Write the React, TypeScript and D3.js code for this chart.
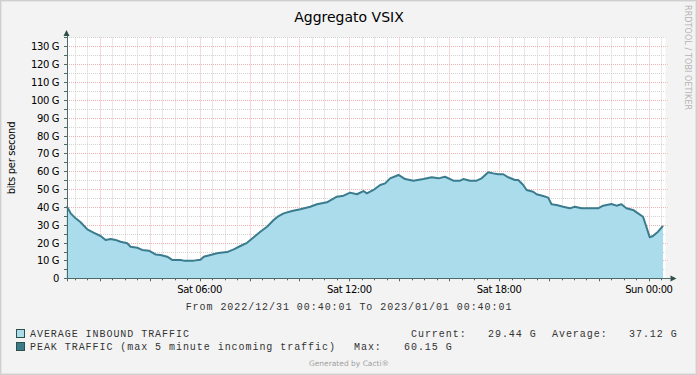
import * as d3 from "d3";
import { useEffect, useRef } from "react";

// time window of the graph
const startTime = new Date(2022, 11, 31, 0, 40, 1);
const endTime = new Date(2023, 0, 1, 0, 40, 1);

// sample positions, minutes after startTime
const sampleMinutes = [
  0, 2, 10, 22, 34, 50, 66, 82, 94, 106, 118, 130, 146, 154, 170, 182, 198, 214, 226, 242,
  254, 274, 282, 306, 322, 330, 346, 362, 370, 386, 402, 418, 434, 450, 466, 482, 498, 510,
  522, 542, 562, 586, 602, 626, 650, 666, 682, 698, 714, 722, 738, 754, 766, 778, 798, 814,
  834, 858, 878, 894, 910, 930, 946, 954, 970, 986, 998, 1014, 1026, 1038, 1050, 1062, 1078,
  1086, 1098, 1106, 1122, 1130, 1146, 1158, 1166, 1178, 1194, 1210, 1222, 1238, 1258, 1278,
  1290, 1310, 1322, 1334, 1346, 1362, 1374, 1386, 1394, 1402, 1410, 1422, 1434,
];

// average inbound traffic, Gbit/s
const inboundG = [
  40.2, 39.8, 36.4, 33.6, 31.4, 27.4, 25.5, 23.7, 21.5, 22.0, 21.5, 20.5, 19.6, 17.7, 17.1, 15.9,
  15.5, 13.4, 13.1, 12.1, 10.3, 10.3, 9.9, 9.9, 10.4, 12.1, 13.1, 14.0, 14.3, 14.7, 16.2, 18.1,
  19.9, 23.0, 26.1, 28.9, 32.7, 34.9, 36.4, 37.7, 38.7, 40.1, 41.5, 42.6, 45.7, 46.3, 48.0, 47.1,
  48.9, 47.6, 49.5, 52.3, 53.2, 56.0, 57.9, 55.6, 54.7, 55.6, 56.6, 56.0, 56.9, 54.7, 54.7, 55.6,
  54.7, 54.7, 56.0, 59.4, 58.8, 58.3, 58.3, 56.6, 55.1, 55.1, 52.3, 49.5, 48.5, 47.1, 46.1, 45.2,
  41.5, 41.1, 40.1, 39.2, 40.1, 39.2, 39.2, 39.2, 40.7, 41.6, 40.7, 41.5, 39.2, 38.3, 36.4, 34.5,
  28.9, 23.0, 23.7, 26.1, 29.4,
];

const yTicks = [0, 10, 20, 30, 40, 50, 60, 70, 80, 90, 100, 110, 120, 130];
const legendNames = ["AVERAGE INBOUND TRAFFIC", "PEAK TRAFFIC (max 5 minute incoming traffic)"];
const statCurrent = "29.44 G";
const statAverage = "37.12 G";
const statMax = "60.15 G";

const W = 697;
const H = 375;

const App = () => {
  const chartRef = useRef<SVGSVGElement | null>(null);

  const margin = { top: 37, left: 67, right: 31, bottom: 97 };

  useEffect(() => {
    const svg = d3.select(chartRef.current);
    svg.selectAll("*").remove();

    const sans = "DejaVu Sans, Verdana, sans-serif";
    const mono = "Liberation Mono, Courier New, monospace";

    const x = d3.scaleTime().domain([startTime, endTime]).range([margin.left - 0.5, W - margin.right - 0.5]);
    const y = d3.scaleLinear().domain([0, 130]).range([278.3, 46.3]);
    const px = (v: number) => Math.round(v) + 0.5;

    // canvas + frame
    svg.append("rect").attr("width", W).attr("height", H).attr("fill", "#f3f3f3");
    svg.append("rect").attr("x", 0.5).attr("y", 0.5).attr("width", W - 1).attr("height", H - 1)
      .attr("fill", "none").attr("stroke", "#cfcfcf");
    svg.append("rect").attr("x", 1.5).attr("y", 1.5).attr("width", W - 3).attr("height", H - 3)
      .attr("fill", "none").attr("stroke", "#e4e4e4");

    // plot area
    const top = y(135);
    const bottom = y(0);
    svg.append("rect").attr("x", margin.left).attr("y", top)
      .attr("width", x(endTime) - margin.left).attr("height", bottom - top).attr("fill", "#ffffff");

    const gx0 = margin.left;
    const gx1 = x(endTime);

    // minor grid
    const minorY = d3.range(5, 140, 10);
    svg.append("g").selectAll("line").data(minorY).enter().append("line")
      .attr("x1", gx0).attr("x2", gx1)
      .attr("y1", d => px(y(d))).attr("y2", d => px(y(d)))
      .attr("stroke", "#d2d2d2").attr("stroke-dasharray", "1,1");
    const minorX = d3.timeMinute.every(30)!.range(startTime, endTime).filter(d => d.getMinutes() !== 0 || d.getHours() % 2 !== 0);
    svg.append("g").selectAll("line").data(minorX).enter().append("line")
      .attr("x1", d => px(x(d))).attr("x2", d => px(x(d)))
      .attr("y1", top).attr("y2", bottom)
      .attr("stroke", "#d2d2d2").attr("stroke-dasharray", "1,1");

    // major grid
    svg.append("g").selectAll("line").data(yTicks.slice(1)).enter().append("line")
      .attr("x1", gx0).attr("x2", gx1 + 2)
      .attr("y1", d => px(y(d))).attr("y2", d => px(y(d)))
      .attr("stroke", "#efb3b3").attr("stroke-dasharray", "1,1");
    const majorX = d3.timeHour.every(2)!.range(startTime, endTime);
    svg.append("g").selectAll("line").data(majorX).enter().append("line")
      .attr("x1", d => px(x(d))).attr("x2", d => px(x(d)))
      .attr("y1", top).attr("y2", bottom)
      .attr("stroke", "#efb3b3").attr("stroke-dasharray", "1,1");

    // data
    const pts = sampleMinutes.map((m, i) => ({ t: d3.timeMinute.offset(startTime, m), v: inboundG[i] }));
    const area = d3.area<{ t: Date; v: number }>()
      .x(d => x(d.t)).y0(bottom).y1(d => y(d.v)).curve(d3.curveLinear);
    const line = d3.line<{ t: Date; v: number }>()
      .x(d => x(d.t)).y(d => y(d.v)).curve(d3.curveLinear);
    svg.append("path").datum(pts).attr("d", area).attr("fill", "#abdcec");
    svg.append("path").datum(pts).attr("d", line).attr("fill", "none")
      .attr("stroke", "#3a7c8e").attr("stroke-width", 2).attr("stroke-linejoin", "round");

    // axes
    const axisCol = "#4d6b66";
    svg.append("line").attr("x1", px(margin.left - 0.5)).attr("x2", px(margin.left - 0.5))
      .attr("y1", 34).attr("y2", bottom + 3).attr("stroke", axisCol);
    svg.append("line").attr("x1", margin.left - 3).attr("x2", gx1 + 5)
      .attr("y1", px(bottom)).attr("y2", px(bottom)).attr("stroke", axisCol);
    svg.append("path").attr("d", `M${margin.left - 3.5},${36} L${margin.left + 2.5},${36} L${margin.left - 0.5},${30} Z`)
      .attr("fill", "#2f4f47");
    svg.append("path").attr("d", `M${gx1 + 5},${px(bottom) - 3} L${gx1 + 5},${px(bottom) + 3} L${gx1 + 11},${px(bottom)} Z`)
      .attr("fill", "#2f4f47");

    // ticks
    svg.append("g").selectAll("line").data(d3.range(0, 140, 5)).enter().append("line")
      .attr("x1", margin.left - 3).attr("x2", margin.left)
      .attr("y1", d => px(y(d))).attr("y2", d => px(y(d)))
      .attr("stroke", axisCol);
    svg.append("g").selectAll("line").data(d3.timeMinute.every(30)!.range(startTime, endTime)).enter().append("line")
      .attr("x1", d => px(x(d))).attr("x2", d => px(x(d)))
      .attr("y1", bottom).attr("y2", d => bottom + (d.getMinutes() === 0 && d.getHours() % 2 === 0 ? 3 : 2))
      .attr("stroke", axisCol);

    // y labels
    svg.append("g").selectAll("text").data(yTicks).enter().append("text")
      .attr("x", 59).attr("y", d => y(d) + 4)
      .attr("text-anchor", "end").attr("font-family", sans).attr("font-size", 10)
      .attr("letter-spacing", -0.4).attr("fill", "#000")
      .text(d => (d === 0 ? "0" : `${d} G`));

    // x labels
    const fmt = d3.timeFormat("%a %H:%M");
    svg.append("g").selectAll("text").data(d3.timeHour.every(6)!.range(startTime, endTime)).enter().append("text")
      .attr("x", d => x(d)).attr("y", 293)
      .attr("text-anchor", "middle").attr("font-family", sans).attr("font-size", 10)
      .attr("letter-spacing", -0.4).attr("fill", "#000")
      .text(d => fmt(d));

    // title + axis title
    svg.append("text").attr("x", 349).attr("y", 22).attr("text-anchor", "middle")
      .attr("font-family", sans).attr("font-size", 14).attr("fill", "#000").text("Aggregato VSIX");
    svg.append("text").attr("transform", "translate(15,158) rotate(-90)").attr("text-anchor", "middle")
      .attr("font-family", sans).attr("font-size", 10).attr("letter-spacing", -0.3).attr("fill", "#000")
      .text("bits per second");
    svg.append("text").attr("transform", "translate(685,5) rotate(90)")
      .attr("font-family", sans).attr("font-size", 8).attr("fill", "#b3b3b3").attr("letter-spacing", 0.1)
      .text("RRDTOOL / TOBI OETIKER");

    // time range
    const tf = d3.timeFormat("%Y/%m/%d %H:%M:%S");
    svg.append("text").attr("x", 349).attr("y", 310).attr("text-anchor", "middle")
      .attr("font-family", mono).attr("font-size", 10).attr("letter-spacing", 0.95).attr("fill", "#333")
      .attr("xml:space", "preserve")
      .text(`From ${tf(startTime)} To ${tf(endTime)}`);

    // legend
    const legendColors = ["#abdcec", "#3a7c8e"];
    legendNames.forEach((name, i) => {
      const ly = 329 + i * 13;
      svg.append("rect").attr("x", 16.5).attr("y", ly + 0.5).attr("width", 8).attr("height", 8)
        .attr("fill", legendColors[i]).attr("stroke", "#2f4f47");
      svg.append("text").attr("x", 30).attr("y", ly + 8)
        .attr("font-family", mono).attr("font-size", 10).attr("letter-spacing", 0.95).attr("fill", "#333")
        .text(name);
    });
    const stat = (sx: number, sy: number, s: string) =>
      svg.append("text").attr("x", sx).attr("y", sy).attr("font-family", mono).attr("font-size", 10)
        .attr("letter-spacing", 0.95).attr("fill", "#333").text(s);
    stat(411, 337, "Current:");
    stat(488, 337, statCurrent);
    stat(552, 337, "Average:");
    stat(629, 337, statAverage);
    stat(354, 350, "Max:");
    stat(404, 350, statMax);

    svg.append("text").attr("x", 349).attr("y", 366).attr("text-anchor", "middle")
      .attr("font-family", sans).attr("font-size", 7.5).attr("fill", "#a0a0a0")
      .text("Generated by Cacti®");
  }, []);

  return (
    <svg ref={chartRef} width={W} height={H} style={{ position: "absolute", left: 0, top: 0 }}></svg>
  );
};

export default App;
